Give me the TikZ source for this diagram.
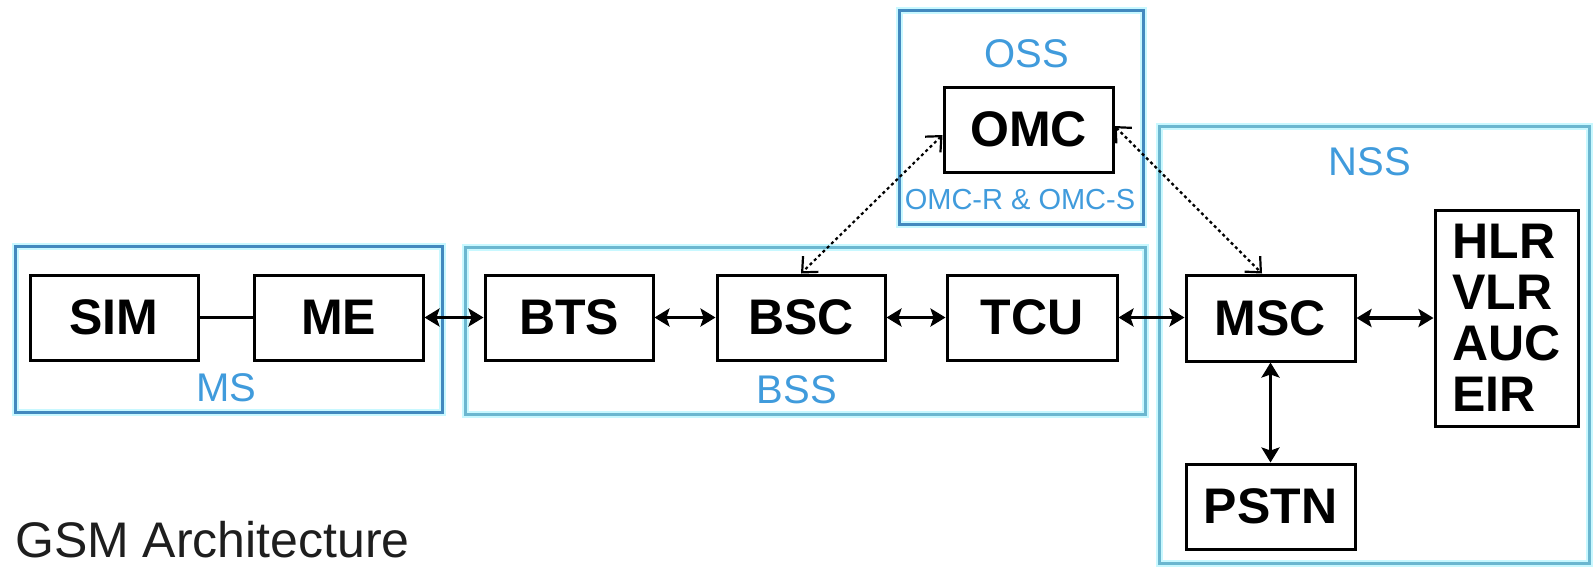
\documentclass[tikz,border=0pt]{standalone}
\usepackage{fontspec}
\setmainfont{Liberation Sans}
\usetikzlibrary{arrows.meta,calc}
\definecolor{framedark}{RGB}{66,137,191}
\definecolor{framelight}{RGB}{107,183,208}
\definecolor{halocol}{RGB}{200,248,255}
\definecolor{labelblue}{RGB}{64,155,220}
\definecolor{captioncol}{RGB}{30,30,30}
\tikzset{
  unit/.style={draw=black, line width=3pt, fill=white, inner sep=0pt,
    font=\fontsize{50}{51}\selectfont\bfseries},
  halo/.style={draw=halocol, line width=7pt},
  grpdark/.style={draw=framedark, line width=3pt},
  grplight/.style={draw=framelight, line width=3pt},
  grplabel/.style={text=labelblue, font=\fontsize{40}{40}\selectfont, inner sep=0pt},
  link/.style={line width=3.5pt, {Stealth[length=15pt,width=18pt,inset=3pt]}-{Stealth[length=15pt,width=18pt,inset=3pt]}},
  mgmt/.style={line width=2.2pt, dash pattern=on 3pt off 3pt,
    {Straight Barb[length=12pt,width=22pt,line width=2.2pt]}-{Straight Barb[length=12pt,width=22pt,line width=2.2pt]}},
}
\begin{document}
\begin{tikzpicture}[x=1pt,y=-1pt]
\useasboundingbox[fill=white] (0,0) rectangle (1596,566);

% group frames
\draw[halo] (15,246) rectangle (442,412);
\draw[grpdark] (15,246) rectangle (442,412);
\draw[halo] (465,247) rectangle (1145,414);
\draw[grplight] (465,247) rectangle (1145,414);
\draw[halo] (899,10) rectangle (1143,224);
\draw[grpdark] (899,10) rectangle (1143,224);
\draw[halo] (1159,126) rectangle (1589,563);
\draw[grplight] (1159,126) rectangle (1589,563);

% group labels
\node[grplabel] (lms) at (226,388) {MS};
\node[grplabel] (lbss) at (797,390) {BSS};
\node[grplabel] (loss) at (1027,54) {OSS};
\node[grplabel] (lnss) at (1370,162) {NSS};
\node[text=labelblue, font=\fontsize{29}{29}\selectfont, inner sep=0pt] (lomc) at (1020,200) {OMC-R \& OMC-S};

% units
\node[unit, minimum width=168pt, minimum height=85pt] (SIM) at (114,317.5) {SIM};
\node[unit, minimum width=169pt, minimum height=85pt] (ME) at (338.5,317.5) {ME};
\node[unit, minimum width=168pt, minimum height=85pt] (BTS) at (569,317.5) {BTS};
\node[unit, minimum width=168pt, minimum height=85pt] (BSC) at (801,317.5) {BSC};
\node[unit, minimum width=170pt, minimum height=85pt] (TCU) at (1032,317.5) {TCU};
\node[unit, minimum width=169pt, minimum height=86pt] (MSC) at (1270.5,318) {MSC};
\node[unit, minimum width=169pt, minimum height=85pt] (PSTN) at (1270.5,506.5) {PSTN};
\node[unit, minimum width=143pt, minimum height=216pt, align=left] (HLR) at (1506.5,318) {HLR\\VLR\\AUC\\EIR};
\node[unit, minimum width=169pt, minimum height=85pt] (OMC) at (1028.5,129.5) {OMC};

% connectors
\draw[line width=3pt] (SIM) -- (ME);
\draw[link] (ME) -- (BTS);
\draw[link] (BTS) -- (BSC);
\draw[link] (BSC) -- (TCU);
\draw[link] (TCU.east) -- (MSC.west |- TCU.east);
\draw[link] (MSC) -- (HLR.west |- MSC.east);
\draw[link] (MSC) -- (PSTN);
\draw[mgmt] ($(OMC.west)+(0,5.5)$) -- (BSC.north);
\draw[mgmt] ($(OMC.east)+(0,-3.5)$) -- ($(MSC.north)+(-8.5,0)$);

% caption
\node[anchor=base west, inner sep=0pt, text=captioncol, font=\fontsize{50}{50}\selectfont] (caption) at (15,557) {GSM Architecture};
\end{tikzpicture}
\end{document}
